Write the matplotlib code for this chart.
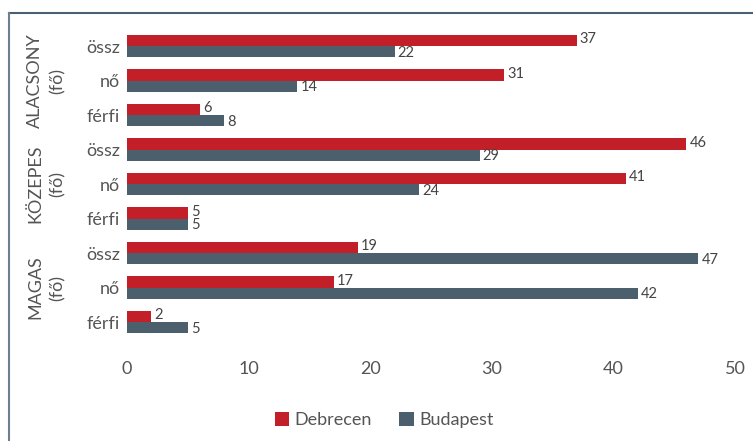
import matplotlib
matplotlib.use("Agg")
import matplotlib.pyplot as plt
from matplotlib.lines import Line2D
import numpy as np

plt.rcParams["font.family"] = ["Lato", "DejaVu Sans"]

RED, GREY, TXT = "#C21F28", "#4B5F6D", "#555555"

groups = ["ALACSONY\n(fő)", "KÖZEPES\n(fő)", "MAGAS\n(fő)"]
rows = ["össz", "nő", "férfi"] * 3
debrecen = [37, 31, 6, 46, 41, 5, 19, 17, 2]
budapest = [22, 14, 8, 29, 24, 5, 47, 42, 5]

fig = plt.figure(figsize=(7.53, 4.41), dpi=100)
ax = fig.add_axes([0.1687, 0.2307, 0.8073, 0.7041])

y = np.arange(len(rows))
h = 0.32
ax.barh(y - h / 2, debrecen, h, color=RED, label="Debrecen")
ax.barh(y + h / 2, budapest, h, color=GREY, label="Budapest")

for i, (d, b) in enumerate(zip(debrecen, budapest)):
    ax.text(d + 0.25, i - h / 2 - 0.04, str(d), va="center", ha="left", fontsize=10.5, color="#444444")
    ax.text(b + 0.25, i + h / 2 + 0.04, str(b), va="center", ha="left", fontsize=10.5, color="#444444")

ax.set_xlim(0, 50)
ax.set_ylim(len(rows) - 0.5, -0.5)
ax.set_xticks(range(0, 51, 10))
ax.set_yticks(y)
ax.set_yticklabels(rows)
ax.tick_params(axis="both", length=0, labelsize=13, colors=TXT)
ax.tick_params(axis="x", pad=16)
ax.tick_params(axis="y", pad=5)
for s in ax.spines.values():
    s.set_visible(False)

for g, name in enumerate(groups):
    ax.text(-0.133, 3 * g + 1, name, transform=ax.get_yaxis_transform(), rotation=90,
            ha="center", va="center", multialignment="center", fontsize=13, color=TXT,
            linespacing=1.45)

ax.legend(loc="center", bbox_to_anchor=(0.51, 0.048), bbox_transform=fig.transFigure,
          ncol=2, frameon=False, fontsize=13, handlelength=0.8, handleheight=0.8,
          handletextpad=0.3, columnspacing=1.5, labelcolor=TXT)

# frame lines of the original box (top and left visible)
fig.add_artist(Line2D([0.0113, 1.0], [0.970, 0.970], transform=fig.transFigure, color="#4A5F70", lw=1.5))
fig.add_artist(Line2D([0.0113, 0.0113], [0.0, 0.970], transform=fig.transFigure, color="#6A7F90", lw=1.5))

fig.savefig("out.png", dpi=100)
